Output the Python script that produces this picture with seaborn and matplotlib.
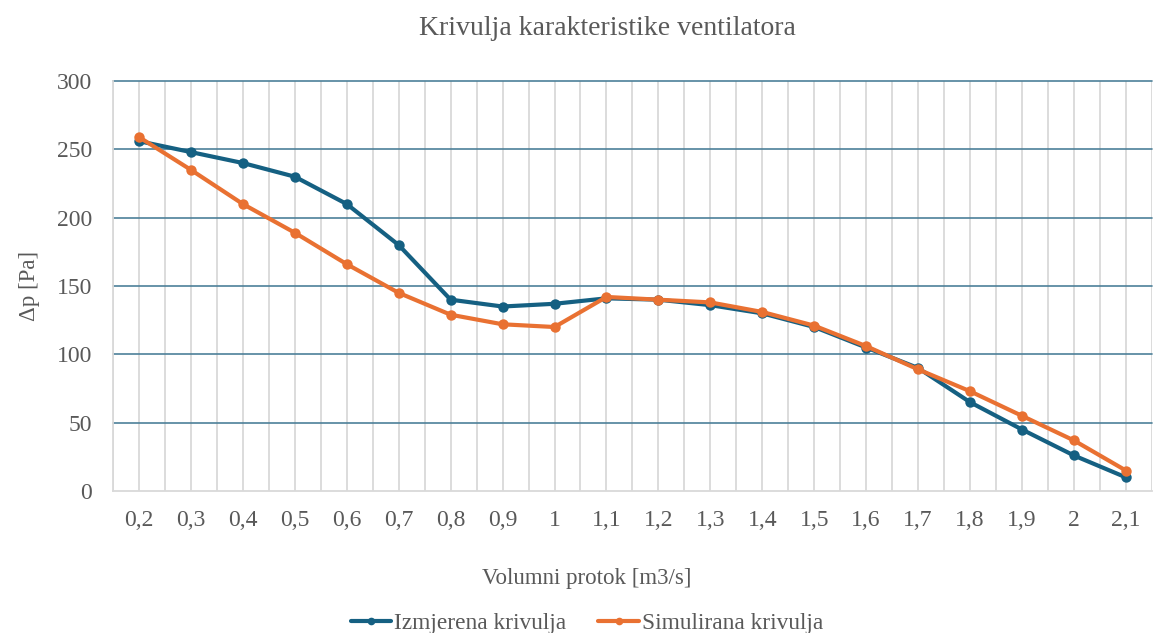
import matplotlib
matplotlib.use("Agg")
import matplotlib.pyplot as plt
import seaborn as sns
import pandas as pd
import numpy as np

# Fan characteristic: pressure rise vs. volume flow
protok = ["0,2", "0,3", "0,4", "0,5", "0,6", "0,7", "0,8", "0,9", "1", "1,1",
          "1,2", "1,3", "1,4", "1,5", "1,6", "1,7", "1,8", "1,9", "2", "2,1"]
izmjerena = [256, 248, 240, 230, 210, 180, 140, 135, 137, 141,
             140, 136, 130, 120, 105, 90, 65, 45, 26, 10]
simulirana = [259, 235, 210, 189, 166, 145, 129, 122, 120, 142,
              140, 138, 131, 121, 106, 89, 73, 55, 37, 15]
serije = ["Izmjerena krivulja", "Simulirana krivulja"]
boje = ["#156082", "#E97132"]

df = pd.DataFrame({
    "protok": protok * 2,
    "dp": izmjerena + simulirana,
    "serija": [serije[0]] * len(protok) + [serije[1]] * len(protok),
})

sns.set_theme(style="white")
plt.rcParams["font.family"] = ["Liberation Serif", "DejaVu Serif"]
tekst = "#595959"

fig = plt.figure(figsize=(11.53, 6.33), dpi=100)
ax = fig.add_axes([0.098, 0.2243, 0.901, 0.6477])

sns.lineplot(data=df, x="protok", y="dp", hue="serija", hue_order=serije,
             palette=boje, marker="o", markersize=7.5, markeredgewidth=0,
             linewidth=3, ax=ax, sort=False, zorder=3)

ax.set_xlim(-0.5, len(protok) - 0.5)
ax.set_ylim(0, 300)
ax.set_yticks(np.arange(0, 301, 50))
ax.set_xticks(np.arange(len(protok)))
ax.set_xticklabels(protok)

# light vertical grid at categories and their boundaries, teal horizontal grid
ax.grid(False)
for x in np.arange(-0.5, len(protok), 0.5):
    ax.axvline(x, color="#d9d9d9", linewidth=1.3, zorder=1)
for y in np.arange(50, 301, 50):
    ax.axhline(y, color="#4d8099", linewidth=1.2, zorder=2, clip_on=False)

for s in ["top", "right"]:
    ax.spines[s].set_visible(False)
for s in ["left", "bottom"]:
    ax.spines[s].set_color("#d9d9d9")
    ax.spines[s].set_linewidth(1.3)

ax.tick_params(axis="both", which="both", length=0, labelsize=17,
               labelcolor=tekst)
ax.tick_params(axis="x", pad=14)
ax.tick_params(axis="y", pad=15)

ax.set_xlabel("Volumni protok [m3/s]", fontsize=16.5, color=tekst,
              labelpad=22)
ax.xaxis.set_label_coords(0.456, -0.187)
ax.set_ylabel("Δp [Pa]", fontsize=16.5, color=tekst, labelpad=12)
fig.suptitle("Krivulja karakteristike ventilatora", fontsize=20,
             color=tekst, x=0.527, y=0.975)

leg = ax.legend(loc="lower center", bbox_to_anchor=(0.456, -0.40), ncol=2,
                frameon=False, fontsize=16.8, handlelength=1.75,
                columnspacing=1.4, handletextpad=0.1)
for t in leg.get_texts():
    t.set_color(tekst)
for h in leg.get_lines():
    h.set_markersize(5.5)

fig.savefig("out.png", dpi=100)
